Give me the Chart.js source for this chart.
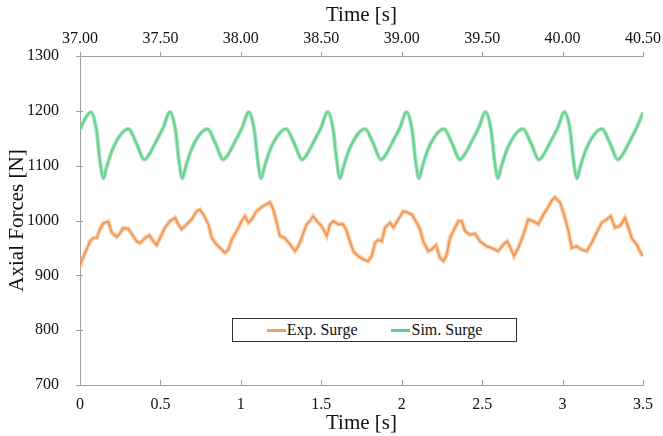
<!DOCTYPE html>
<html>
<head>
<meta charset="utf-8">
<script src="https://cdn.jsdelivr.net/npm/chart.js@4.4.1/dist/chart.umd.min.js"></script>
<style>
  body { margin: 0; background: #fff; }
  #wrap { position: relative; width: 663px; height: 436px; }
  #legend {
    position: absolute; left: 232px; top: 318px; width: 283px; height: 22px;
    border: 1px solid #333; background: #fff;
    display: flex; align-items: center; justify-content: center; gap: 34px;
    font-family: 'Liberation Serif'; font-size: 16px; color: #111;
  }
  #legend span.item { display: flex; align-items: center; }
  #legend i { display: inline-block; width: 19px; height: 3px; margin-right: 1px; }
</style>
</head>
<body>
<div id="wrap">
  <canvas id="forces" width="663" height="436"></canvas>
  <div id="legend"></div>
</div>
<script>
// Exp. Surge (measured, noisy)
const expTime = [
  0.000, 0.004, 0.031, 0.062, 0.083, 0.104, 0.124, 0.145, 0.176, 0.197,
  0.228, 0.249, 0.269, 0.300, 0.321, 0.352, 0.373, 0.404, 0.431, 0.456,
  0.477, 0.497, 0.528, 0.560, 0.591, 0.611, 0.632, 0.663, 0.694, 0.725,
  0.746, 0.767, 0.798, 0.819, 0.850, 0.870, 0.901, 0.922, 0.943, 0.974,
  1.005, 1.026, 1.047, 1.067, 1.098, 1.130, 1.161, 1.181, 1.202, 1.223,
  1.243, 1.274, 1.306, 1.337, 1.357, 1.378, 1.409, 1.430, 1.450, 1.471,
  1.502, 1.534, 1.554, 1.575, 1.606, 1.635, 1.658, 1.678, 1.699, 1.730,
  1.761, 1.792, 1.813, 1.834, 1.854, 1.876, 1.896, 1.927, 1.948, 1.979,
  2.010, 2.041, 2.062, 2.093, 2.114, 2.134, 2.165, 2.186, 2.213, 2.238,
  2.259, 2.280, 2.300, 2.331, 2.352, 2.373, 2.393, 2.424, 2.456, 2.487,
  2.528, 2.569, 2.600, 2.631, 2.656, 2.677, 2.698, 2.725, 2.756, 2.787,
  2.818, 2.849, 2.870, 2.901, 2.932, 2.953, 2.984, 3.009, 3.036, 3.057,
  3.088, 3.119, 3.150, 3.181, 3.212, 3.243, 3.274, 3.299, 3.326, 3.357,
  3.388, 3.409, 3.430, 3.461, 3.492, 3.500
];
const expForce = [
  920, 922, 941, 962, 968, 968, 984, 995, 998, 978,
  970, 977, 986, 985, 976, 962, 959, 968, 973, 962,
  955, 968, 987, 999, 1005, 993, 984, 993, 1002, 1017,
  1020, 1011, 993, 968, 956, 950, 941, 947, 965, 981,
  999, 1008, 996, 1002, 1017, 1025, 1030, 1033, 1020, 996,
  972, 968, 956, 944, 953, 968, 993, 999, 1008, 999,
  990, 972, 993, 999, 993, 993, 981, 962, 944, 935,
  929, 926, 935, 959, 965, 962, 987, 996, 987, 1002,
  1017, 1014, 1011, 996, 984, 962, 944, 947, 955, 932,
  926, 938, 968, 987, 999, 999, 981, 974, 976, 962,
  953, 949, 944, 956, 962, 950, 935, 950, 974, 1002,
  999, 993, 1005, 1020, 1036, 1042, 1033, 1011, 981, 950,
  953, 947, 944, 959, 978, 996, 1002, 1008, 987, 990,
  1005, 987, 968, 956, 938, 936
];

// Sim. Surge (simulated, smooth) - one row per wave cycle
const simTime = [
  0.000, 0.031,
  0.068, 0.103, 0.124, 0.145, 0.165, 0.201, 0.259, 0.300, 0.352, 0.400, 0.424, 0.476, 0.518,
  0.559, 0.594, 0.615, 0.636, 0.656, 0.692, 0.750, 0.791, 0.843, 0.891, 0.915, 0.967, 1.009,
  1.049, 1.084, 1.105, 1.126, 1.146, 1.182, 1.240, 1.281, 1.333, 1.381, 1.405, 1.457, 1.499,
  1.540, 1.575, 1.596, 1.617, 1.637, 1.673, 1.731, 1.772, 1.824, 1.872, 1.896, 1.948, 1.990,
  2.030, 2.065, 2.086, 2.107, 2.127, 2.163, 2.221, 2.262, 2.314, 2.362, 2.386, 2.438, 2.480,
  2.521, 2.556, 2.577, 2.598, 2.618, 2.654, 2.712, 2.753, 2.805, 2.853, 2.877, 2.929, 2.971,
  3.012, 3.047, 3.068, 3.089, 3.109, 3.145, 3.203, 3.244, 3.296, 3.344, 3.368, 3.420, 3.462,
  3.500
];
const simForce = [
  1166, 1185,
  1198, 1164, 1109, 1077, 1097, 1129, 1159, 1167, 1140, 1111, 1118, 1146, 1170,
  1198, 1164, 1109, 1077, 1097, 1129, 1159, 1167, 1140, 1111, 1118, 1146, 1170,
  1198, 1164, 1109, 1077, 1097, 1129, 1159, 1167, 1140, 1111, 1118, 1146, 1170,
  1198, 1164, 1109, 1077, 1097, 1129, 1159, 1167, 1140, 1111, 1118, 1146, 1170,
  1198, 1164, 1109, 1077, 1097, 1129, 1159, 1167, 1140, 1111, 1118, 1146, 1170,
  1198, 1164, 1109, 1077, 1097, 1129, 1159, 1167, 1140, 1111, 1118, 1146, 1170,
  1198, 1164, 1109, 1077, 1097, 1129, 1159, 1167, 1140, 1111, 1118, 1146, 1170,
  1197
];

const yTicks = [700, 800, 900, 1000, 1100, 1200, 1300];
const bottomRange = [0, 3.5];
const topRange = [37.0, 40.5];

const SERIF = 'Liberation Serif';
const AXIS = '#a0a0a0';

function pts(xs, ys) {
  return xs.map((x, i) => ({ x: x, y: ys[i] }));
}

// small tick marks: y crosses the axis, x ticks stick up
const tickMarks = {
  id: 'tickMarks',
  afterDraw(chart) {
    const c = chart.ctx;
    const a = chart.chartArea;
    c.save();
    c.strokeStyle = AXIS;
    c.lineWidth = 1;
    c.beginPath();
    chart.scales.y.ticks.forEach(t => {
      const py = Math.round(chart.scales.y.getPixelForValue(t.value)) + 0.5;
      c.moveTo(a.left - 4, py); c.lineTo(a.left + 3, py);
    });
    chart.scales.x.ticks.forEach(t => {
      const px = Math.round(chart.scales.x.getPixelForValue(t.value)) + 0.5;
      c.moveTo(px, a.bottom); c.lineTo(px, a.bottom - 5);
    });
    chart.scales.x2.ticks.forEach(t => {
      const px = Math.round(chart.scales.x2.getPixelForValue(t.value)) + 0.5;
      c.moveTo(px, a.top); c.lineTo(px, a.top - 4);
    });
    c.stroke();
    c.restore();
  }
};

const tickFont = { family: SERIF, size: 16 };
const titleFont = { family: SERIF, size: 21 };

// keep the plot box fixed, labels may hang over the edges
function noSidePad(s) {
  s.paddingLeft = 0;
  s.paddingRight = 0;
}

const chart = new Chart(document.getElementById('forces'), {
  type: 'line',
  data: {
    datasets: [
      {
        label: 'Exp. Surge halo', data: pts(expTime, expForce), xAxisID: 'x',
        borderColor: 'rgba(244, 170, 110, 0.55)', borderWidth: 4.5,
        pointRadius: 0, tension: 0
      },
      {
        label: 'Exp. Surge', data: pts(expTime, expForce), xAxisID: 'x',
        borderColor: '#e8761e', borderWidth: 1.6,
        pointRadius: 0, tension: 0
      },
      {
        label: 'Sim. Surge halo', data: pts(simTime, simForce), xAxisID: 'x',
        borderColor: 'rgba(120, 215, 155, 0.7)', borderWidth: 4,
        pointRadius: 0, cubicInterpolationMode: 'monotone'
      },
      {
        label: 'Sim. Surge', data: pts(simTime, simForce), xAxisID: 'x',
        borderColor: '#3cbf70', borderWidth: 1.8,
        pointRadius: 0, cubicInterpolationMode: 'monotone'
      }
    ]
  },
  options: {
    responsive: false,
    animation: false,
    layout: { padding: { left: 0, right: 20, top: 0, bottom: 0 } },
    plugins: {
      legend: { display: false },
      tooltip: { enabled: false }
    },
    scales: {
      x: {
        type: 'linear', position: 'bottom',
        min: bottomRange[0], max: bottomRange[1],
        grid: { display: false },
        border: { color: AXIS },
        ticks: {
          stepSize: 0.5, color: '#111', font: tickFont, padding: 2, maxRotation: 0,
          callback: v => String(Math.round(v * 10) / 10)
        },
        title: { display: true, text: 'Time [s]', color: '#111', font: titleFont, padding: { top: 0, bottom: 0 } },
        afterFit(s) { s.height = 51; noSidePad(s); }
      },
      x2: {
        type: 'linear', position: 'top',
        min: topRange[0], max: topRange[1],
        grid: { display: false },
        border: { color: AXIS },
        ticks: {
          stepSize: 0.5, color: '#111', font: tickFont, padding: 0, maxRotation: 0,
          callback: v => v.toFixed(2)
        },
        title: { display: true, text: 'Time [s]', color: '#111', font: titleFont, padding: { top: 3, bottom: 0 } },
        afterFit(s) { s.height = 56; noSidePad(s); }
      },
      y: {
        min: yTicks[0], max: yTicks[yTicks.length - 1],
        grid: { display: false },
        border: { color: AXIS },
        afterBuildTicks(s) { s.ticks = yTicks.map(v => ({ value: v })); },
        ticks: { color: '#111', font: tickFont, padding: 13, callback: v => String(v) },
        title: { display: true, text: 'Axial Forces [N]', color: '#111', font: titleFont, padding: { top: 5, bottom: 0 } },
        afterFit(s) { s.width = 80; }
      }
    }
  },
  plugins: [tickMarks]
});

// legend box inside the plot
const legendColors = { 'Exp. Surge': '#f0a060', 'Sim. Surge': '#5fcf8c' };
const legend = document.getElementById('legend');
chart.data.datasets.filter(d => !d.label.endsWith('halo')).forEach(d => {
  const item = document.createElement('span');
  item.className = 'item';
  item.innerHTML = '<i style="background:' + legendColors[d.label] + '"></i>' + d.label;
  legend.appendChild(item);
});
</script>
</body>
</html>
